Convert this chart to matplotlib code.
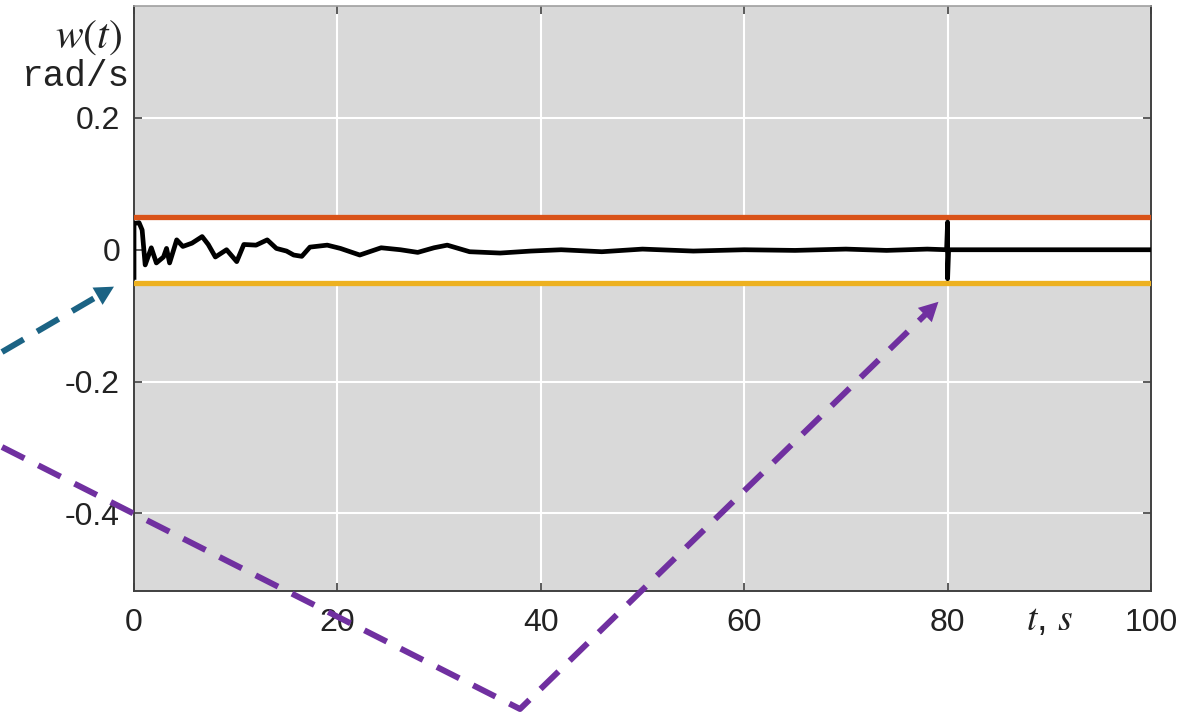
import matplotlib
matplotlib.use("Agg")
import matplotlib.pyplot as plt
import numpy as np
from matplotlib.lines import Line2D
from matplotlib.patches import Polygon
from matplotlib.transforms import IdentityTransform

# Angular velocity trace w(t), rad/s
t = [0, 0, 0.5, 0.8, 1.1, 1.7, 2.2, 2.9, 3.2, 3.5,
     4.2, 4.8, 5.7, 6.7, 7.3, 8.0, 9.1, 10.1, 10.8, 12.0,
     13.1, 14.0, 15.0, 15.7, 16.5, 17.3, 19.0, 20.3, 22.2, 24.3,
     26.2, 27.9, 29.5, 30.8, 33.0, 36, 39, 42, 46, 50,
     55, 60, 65, 70, 74, 78, 79.9, 80, 80, 80.1,
     85, 90, 95, 100]
w = [-0.042, 0.040, 0.041, 0.030, -0.023, 0.003, -0.020, -0.011, 0.002, -0.020,
     0.015, 0.005, 0.010, 0.020, 0.008, -0.011, 0.000, -0.018, 0.008, 0.007,
     0.015, 0.002, -0.002, -0.008, -0.010, 0.004, 0.007, 0.002, -0.008, 0.003,
     0.000, -0.004, 0.003, 0.007, -0.003, -0.005, -0.002, 0.000, -0.003, 0.001,
     -0.002, 0.000, -0.001, 0.001, -0.001, 0.001, 0.000, 0.042, -0.044, 0.000,
     0.000, 0.000, 0.000, 0.000]

upper_bound = 0.05
lower_bound = -0.05

x_ticks = [0, 20, 40, 60, 80, 100]
x_labels = ["0", "20", "40", "60", "80", "100"]
y_ticks = [-0.4, -0.2, 0, 0.2]
y_labels = ["-0.4", "-0.2", "0", "0.2"]

plt.rcParams["font.family"] = ["Liberation Sans", "DejaVu Sans"]
plt.rcParams["mathtext.fontset"] = "stix"

W_PX, H_PX = 1201, 714
fig = plt.figure(figsize=(W_PX / 100, H_PX / 100), dpi=100)
ax = fig.add_axes([134 / W_PX, 123 / H_PX, (1151 - 134) / W_PX, (708 - 123) / H_PX])
ax.set_facecolor("#d9d9d9")
ax.set_xlim(0, 100)
ax.set_ylim(-0.518, 0.37)

# admissible band
ax.axhspan(lower_bound, upper_bound, color="white", zorder=0.5, lw=0)
ax.grid(True, color="white", lw=1.5, zorder=1)
ax.set_axisbelow(True)

ax.axhline(upper_bound, color="#d95319", lw=3.8, zorder=3)
ax.axhline(lower_bound, color="#edb120", lw=3.8, zorder=3)
ax.plot(t, w, color="black", lw=3.4, zorder=4, solid_joinstyle="round")

ax.set_xticks(x_ticks)
ax.set_xticklabels(x_labels)
ax.set_yticks(y_ticks)
ax.set_yticklabels(y_labels)
ax.tick_params(axis="both", direction="in", length=6, width=1.2, color="#404040",
               labelsize=23, labelcolor="#222222", top=True, right=True)
ax.tick_params(axis="x", pad=12)
ax.tick_params(axis="y", pad=10)

for side in ["left", "bottom", "right"]:
    ax.spines[side].set_color("#404040")
    ax.spines[side].set_linewidth(1.4)
ax.spines["top"].set_color("#a0a0a0")
ax.spines["top"].set_linewidth(1.2)

# axis titles
fig.text(122 / W_PX, 1 - 37 / H_PX, r"$w(t)$", fontsize=30, ha="right", va="center",
         color="#222222")
fig.text(130 / W_PX, 1 - 76 / H_PX, "rad/s", fontsize=26, ha="right", va="center",
         family=["Liberation Mono", "DejaVu Sans Mono"], color="#222222")
fig.text(1049 / W_PX, 1 - 620 / H_PX, r"$t$, $s$", fontsize=27, ha="center",
         va="center", color="#222222")


def pointer(points, color, head_len=19, head_w=20):
    """Dashed polyline in figure pixels ending with a solid arrowhead."""
    pts = np.asarray(points, dtype=float)
    tip = pts[-1]
    d = tip - pts[-2]
    u = d / np.hypot(*d)
    n = np.array([-u[1], u[0]])
    base = tip - head_len * u
    line_pts = np.vstack([pts[:-1], base + 2 * u])
    fig.add_artist(Line2D(line_pts[:, 0], line_pts[:, 1], transform=IdentityTransform(),
                          color=color, lw=4.3, linestyle=(0, (4.2, 2.6)),
                          solid_capstyle="butt", dash_capstyle="butt", zorder=10))
    head = [tip, base + n * head_w / 2, base - n * head_w / 2]
    fig.add_artist(Polygon(head, closed=True, transform=IdentityTransform(),
                           facecolor=color, edgecolor="none", zorder=11))


# arrow tips point at data locations on the chart
teal_tip = ax.transData.transform((-1.97, -0.056))
purple_tip = ax.transData.transform((79.1, -0.079))
pointer([(2, 362), teal_tip], "#1b6384")
pointer([(2, 267), (520, 5), purple_tip], "#7030a0")

fig.savefig("out.png", dpi=100)
